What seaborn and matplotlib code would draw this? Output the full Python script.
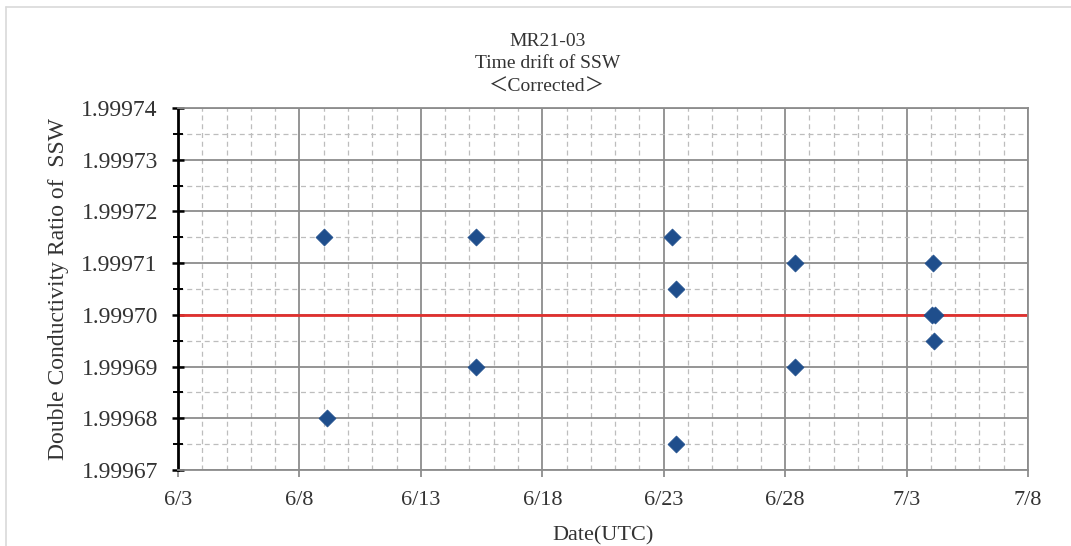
import matplotlib
matplotlib.use("Agg")
import matplotlib.pyplot as plt
import matplotlib.dates as mdates
import matplotlib.ticker as mticker
from matplotlib.lines import Line2D
import seaborn as sns
import pandas as pd

# ---- data ----
sample_dates = ["2021-06-09 00:00", "2021-06-09 03:00",
                "2021-06-15 06:00", "2021-06-15 06:00",
                "2021-06-23 08:00", "2021-06-23 12:00", "2021-06-23 12:00",
                "2021-06-28 10:00", "2021-06-28 10:00",
                "2021-07-04 02:00", "2021-07-04 01:00", "2021-07-04 04:00", "2021-07-04 03:00"]
ratio = [1.999715, 1.99968,
         1.999715, 1.99969,
         1.999715, 1.999705, 1.999675,
         1.99971, 1.99969,
         1.99971, 1.99970, 1.99970, 1.999695]
reference_value = 1.99970
title_lines = ["MR21-03", "Time drift of SSW", "\uff1cCorrected\uff1e"]
x_label = "Date(UTC)"
y_label = "Double Conductivity Ratio of  SSW"
x_start, x_end = "2021-06-03", "2021-07-08"
y_min, y_max = 1.99967, 1.99974

df = pd.DataFrame({"date": pd.to_datetime(sample_dates), "ratio": ratio})

sns.set_theme(style="white")
plt.rcParams["font.family"] = ["Liberation Serif", "DejaVu Serif"]

fig = plt.figure(figsize=(10.71, 5.46), dpi=100)
ax = fig.add_axes([178 / 1071, 1 - 470 / 546, (1028 - 178) / 1071, (470 - 108) / 546])

# outer frame (top and left edges visible)
fig.lines.append(Line2D([6 / 1071, 6 / 1071], [0.0, 1 - 7 / 546], transform=fig.transFigure,
                        color="#d9d9d9", linewidth=1.2))
fig.lines.append(Line2D([6 / 1071, 1.0], [1 - 7 / 546, 1 - 7 / 546], transform=fig.transFigure,
                        color="#d9d9d9", linewidth=1.2))

ax.set_xlim(pd.Timestamp(x_start), pd.Timestamp(x_end))
ax.set_ylim(y_min, y_max)

ax.xaxis.set_major_locator(mdates.DayLocator(bymonthday=[3, 8, 13, 18, 23, 28]))
ax.xaxis.set_minor_locator(mdates.DayLocator())
ax.xaxis.set_major_formatter(mticker.FuncFormatter(
    lambda v, p: f"{mdates.num2date(v).month}/{mdates.num2date(v).day}"))
ax.yaxis.set_major_locator(mticker.MultipleLocator(0.00001))
ax.yaxis.set_minor_locator(mticker.MultipleLocator(0.000005))
ax.yaxis.set_major_formatter(mticker.FormatStrFormatter("%.5f"))

ax.grid(which="major", color="#8c8c8c", linewidth=1.3, linestyle="-")
ax.grid(which="minor", color="#bdbdbd", linewidth=0.9, linestyle=(0, (4, 3)))
ax.set_axisbelow(True)

for s in ["top", "right", "bottom"]:
    ax.spines[s].set_color("#8c8c8c")
    ax.spines[s].set_linewidth(1.3)
ax.spines["left"].set_color("black")
ax.spines["left"].set_linewidth(2.0)

ax.tick_params(axis="y", which="major", direction="inout", length=9, width=1.8, color="black",
               labelsize=17, pad=10, left=True)
ax.tick_params(axis="y", which="minor", direction="inout", length=7, width=1.4, color="black", left=True)
ax.tick_params(axis="x", which="major", direction="out", length=5, width=1.3, color="#8c8c8c",
               labelsize=16, pad=10, bottom=True)
ax.tick_params(axis="x", which="minor", length=0)
for lab in ax.get_xticklabels() + ax.get_yticklabels():
    lab.set_color("#333333")

ax.axhline(reference_value, color="#e0302e", linewidth=2.0, zorder=2)

sns.scatterplot(data=df, x="date", y="ratio", marker="D", s=75, color="#1f4e8c",
                edgecolor="#1f4e8c", linewidth=0.5, ax=ax, zorder=3)

ax.set_xlabel(x_label, fontsize=16, color="#333333", labelpad=12)
ax.set_ylabel(y_label, fontsize=17, color="#333333", labelpad=9)

tx = 0.511
fig.text(tx, 1 - 41 / 546, title_lines[0], ha="center", va="center", fontsize=14, color="#333333")
fig.text(tx, 1 - 63 / 546, title_lines[1], ha="center", va="center", fontsize=14, color="#333333")
fig.text(tx, 1 - 87 / 546, title_lines[2], ha="center", va="center", fontsize=14, color="#333333",
         family=["Liberation Serif", "Noto Sans CJK JP"])

fig.savefig("out.png", dpi=100)
